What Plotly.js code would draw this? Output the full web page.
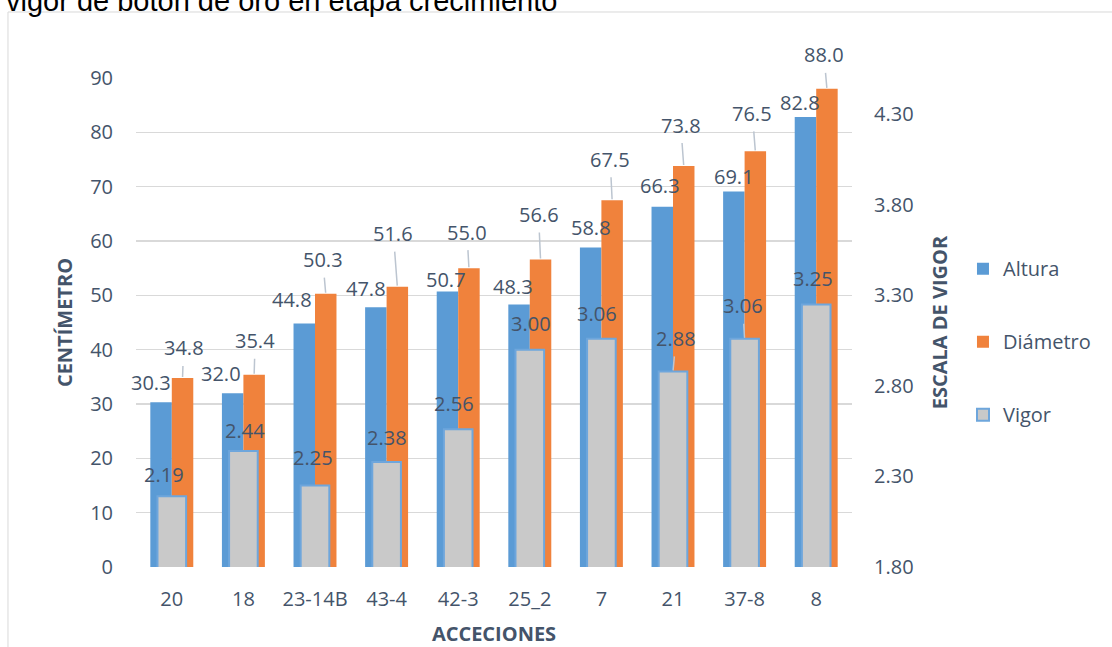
<!DOCTYPE html>
<html>
<head>
<meta charset="utf-8">
<script src="https://cdn.plot.ly/plotly-3.0.1.min.js"></script>
<style>
  html, body { margin: 0; padding: 0; background: #ffffff; }
  #chart { width: 1112px; height: 647px; }
</style>
</head>
<body>
<div id="chart"></div>
<script>
// Accessions and measured values
const categories = ['20', '18', '23-14B', '43-4', '42-3', '25_2', '7', '21', '37-8', '8'];
const altura = [30.3, 32.0, 44.8, 47.8, 50.7, 48.3, 58.8, 66.3, 69.1, 82.8];
const diametro = [34.8, 35.4, 50.3, 51.6, 55.0, 56.6, 67.5, 73.8, 76.5, 88.0];
const vigor = [2.19, 2.44, 2.25, 2.38, 2.56, 3.00, 3.06, 2.88, 3.06, 3.25];

// Data-label placement (pixel offsets of each label from the top centre of its bar)
const alturaLabelDx = [-10, -12, -12, -10, -1, -6, 0, -2, 0, -5];
const alturaLabelDy = [-20, -20, -24, -19, -12, -18, -20, -21, -15, -15];
const diametroLabelDx = [1, 1, -3, -4, -2, -2, -2, -3, -3, -3];
const diametroLabelDy = [-30, -34, -34, -53, -36, -45, -41, -41, -38, -34];
const vigorLabelDx = [-8, 2, -2, 0, -4, 1, -4, 3, -2, -3];
const vigorLabelDy = [-22, -21, -28, -24, -26, -26, -25, -33, -33, -26];
const vigorLeader = [false, false, false, false, false, false, false, true, true, false];

const TEXT = '#44546a';
const FONT = 'Open Sans, sans-serif';
const idx = categories.map((c, i) => i);

const traces = [
  {
    type: 'bar', name: 'Altura', x: idx, y: altura,
    width: 0.3, offset: -0.3,
    marker: { color: '#5b9bd5' },
    legendgroup: 'a', hoverinfo: 'y'
  },
  {
    type: 'bar', name: 'Diámetro', x: idx, y: diametro,
    width: 0.3, offset: 0,
    marker: { color: '#f0823c' },
    legendgroup: 'd', hoverinfo: 'y'
  },
  {
    type: 'bar', name: 'Vigor', x: idx, y: vigor, yaxis: 'y2',
    width: 0.4, offset: -0.2,
    marker: { color: '#c9c9c9', line: { color: '#6ea6dc', width: 2 } },
    legendgroup: 'v', hoverinfo: 'y'
  }
];

// Value labels, some with leader lines
const annotations = [];
function addLabels(values, centre, yref, dx, dy, leader, digits) {
  values.forEach((v, i) => {
    const base = {
      x: i + centre, y: v, xref: 'x', yref: yref,
      text: v.toFixed(digits),
      font: { family: FONT, size: 20, color: TEXT }
    };
    if (leader[i]) {
      annotations.push(Object.assign(base, {
        showarrow: true, arrowhead: 0, arrowwidth: 1.5, arrowcolor: '#bcc5d0',
        ax: dx[i], ay: dy[i], axref: 'pixel', ayref: 'pixel',
        standoff: 1, startstandoff: 3, xanchor: 'center', yanchor: 'middle'
      }));
    } else {
      annotations.push(Object.assign(base, {
        showarrow: false, xanchor: 'center', yanchor: 'middle',
        xshift: dx[i], yshift: -dy[i]
      }));
    }
  });
}
addLabels(altura, -0.15, 'y', alturaLabelDx, alturaLabelDy, altura.map(() => false), 1);
addLabels(diametro, 0.15, 'y', diametroLabelDx, diametroLabelDy, diametro.map(() => true), 1);
addLabels(vigor, 0, 'y2', vigorLabelDx, vigorLabelDy, vigorLeader, 2);

const layout = {
  width: 1112, height: 647,
  margin: { l: 136, r: 260, t: 78, b: 80, autoexpand: false },
  paper_bgcolor: '#ffffff', plot_bgcolor: '#ffffff',
  font: { family: FONT, size: 20, color: TEXT },
  title: {
    text: 'vigor de boton de oro en etapa crecimiento',
    font: { family: 'Liberation Sans, Arial, sans-serif', size: 29, color: '#000000' },
    xref: 'container', x: 6 / 1112, xanchor: 'left',
    yref: 'container', y: 1 - 1 / 647, yanchor: 'middle'
  },
  barmode: 'overlay',
  showlegend: true,
  legend: {
    x: 1.155, xanchor: 'left', y: 0.65, yanchor: 'top',
    font: { family: FONT, size: 20, color: TEXT },
    tracegroupgap: 44, traceorder: 'grouped',
    bgcolor: 'rgba(0,0,0,0)'
  },
  xaxis: {
    type: 'linear', range: [-0.5, 9.5],
    tickmode: 'array', tickvals: idx, ticktext: categories,
    showgrid: false, zeroline: false, showline: false,
    ticks: '', ticklabelstandoff: 18,
    tickfont: { family: FONT, size: 20, color: TEXT },
    title: { text: 'ACCECIONES', font: { family: FONT, size: 20, color: TEXT, weight: 'bold' }, standoff: 15 }
  },
  yaxis: {
    range: [0, 90], dtick: 10, tick0: 0,
    showgrid: true, gridcolor: '#d9d9d9', gridwidth: 1.5,
    zeroline: false, showline: false, ticks: '', ticklabelstandoff: 22,
    tickfont: { family: FONT, size: 20, color: TEXT },
    title: { text: 'CENTÍMETRO', font: { family: FONT, size: 20, color: TEXT, weight: 'bold' }, standoff: 12 }
  },
  yaxis2: {
    overlaying: 'y', side: 'right',
    range: [1.8, 4.5], tick0: 1.8, dtick: 0.5, tickformat: '.2f',
    showgrid: false, zeroline: false, showline: false, ticks: '', ticklabelstandoff: 21,
    tickfont: { family: FONT, size: 20, color: TEXT },
    title: { text: 'ESCALA DE VIGOR', font: { family: FONT, size: 20, color: TEXT, weight: 'bold' }, standoff: 20 }
  },
  shapes: [{
    type: 'rect', xref: 'paper', yref: 'paper',
    x0: -0.1788, x1: 1.37, y0: -0.17, y1: 1.135,
    line: { color: '#d9d9d9', width: 1 }, fillcolor: 'rgba(0,0,0,0)', layer: 'below'
  }],
  annotations: annotations
};

Plotly.newPlot('chart', traces, layout, { displayModeBar: false, staticPlot: true });
</script>
</body>
</html>
